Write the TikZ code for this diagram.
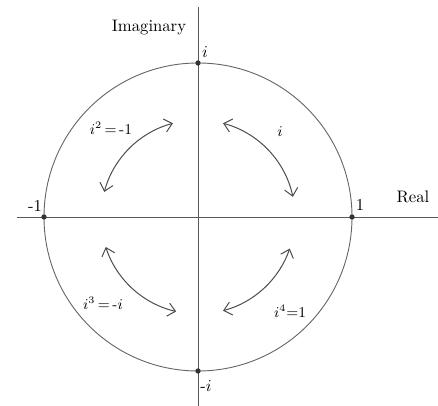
\documentclass[tikz,border=0pt]{standalone}
\usepackage{amsmath}
\usetikzlibrary{positioning,arrows.meta}

\begin{document}
\begin{tikzpicture}[x=0.6pt,y=0.6pt,
  axis/.style={draw=black!65,line width=0.55pt},
  ring/.style={draw=black!60,line width=0.55pt},
  pt/.style={circle,fill=black!80,inner sep=0pt,minimum size=3.2pt},
  turn/.style={draw=black!70,line width=0.6pt,{Straight Barb[length=4.5pt,width=8pt]}-{Straight Barb[length=4.5pt,width=8pt]}},
  lbl/.style={font=\normalsize,inner sep=1pt}, pw/.style={font=\small,inner sep=1pt}]
\useasboundingbox (0,0) rectangle (438,406);
\coordinate (o) at (198,189);
\coordinate (xl) at (17,189); \coordinate (xr) at (438,189);
\coordinate (yb) at (198,0); \coordinate (yt) at (198,399);
% unit circle and axes
\draw[ring] (o) circle[radius=154];
\draw[axis] (xl)--(xr);
\draw[axis] (yb)--(yt);
\node[pt] (p1) at (352,189) {};
\node[pt] (pi) at (198,343) {};
\node[pt] (pm1) at (44,189) {};
\node[pt] (pmi) at (198,35) {};
% labels
\node[lbl] (im) at (149,378) {Imaginary};
\node[lbl] (re) at (413,209) {Real};
\node[lbl,above right=1pt and 0pt of pi] (ti) {$i$};
\node[lbl] (one) at (360,201) {1};
\node[lbl] (mone) at (35,200) {-1};
\node[lbl] (mi) at (206,20) {-$i$};
% rotations by i
\draw[turn] ([shift={(75:97)}]o) arc[start angle=75,end angle=12,radius=97];
\draw[turn] ([shift={(165:97)}]o) arc[start angle=165,end angle=105,radius=97];
\draw[turn] ([shift={(198:97)}]o) arc[start angle=198,end angle=257,radius=97];
\draw[turn] ([shift={(285:97)}]o) arc[start angle=285,end angle=341,radius=97];
\node[pw] (q1) at (280,274) {$i$};
\node[pw] (q2) at (111,278) {$i^2$\,=\,-1};
\node[pw] (q3) at (103,103) {$i^3$\,=\,-$i$};
\node[pw] (q4) at (290,95) {$i^4$=1};
\end{tikzpicture}
\end{document}
